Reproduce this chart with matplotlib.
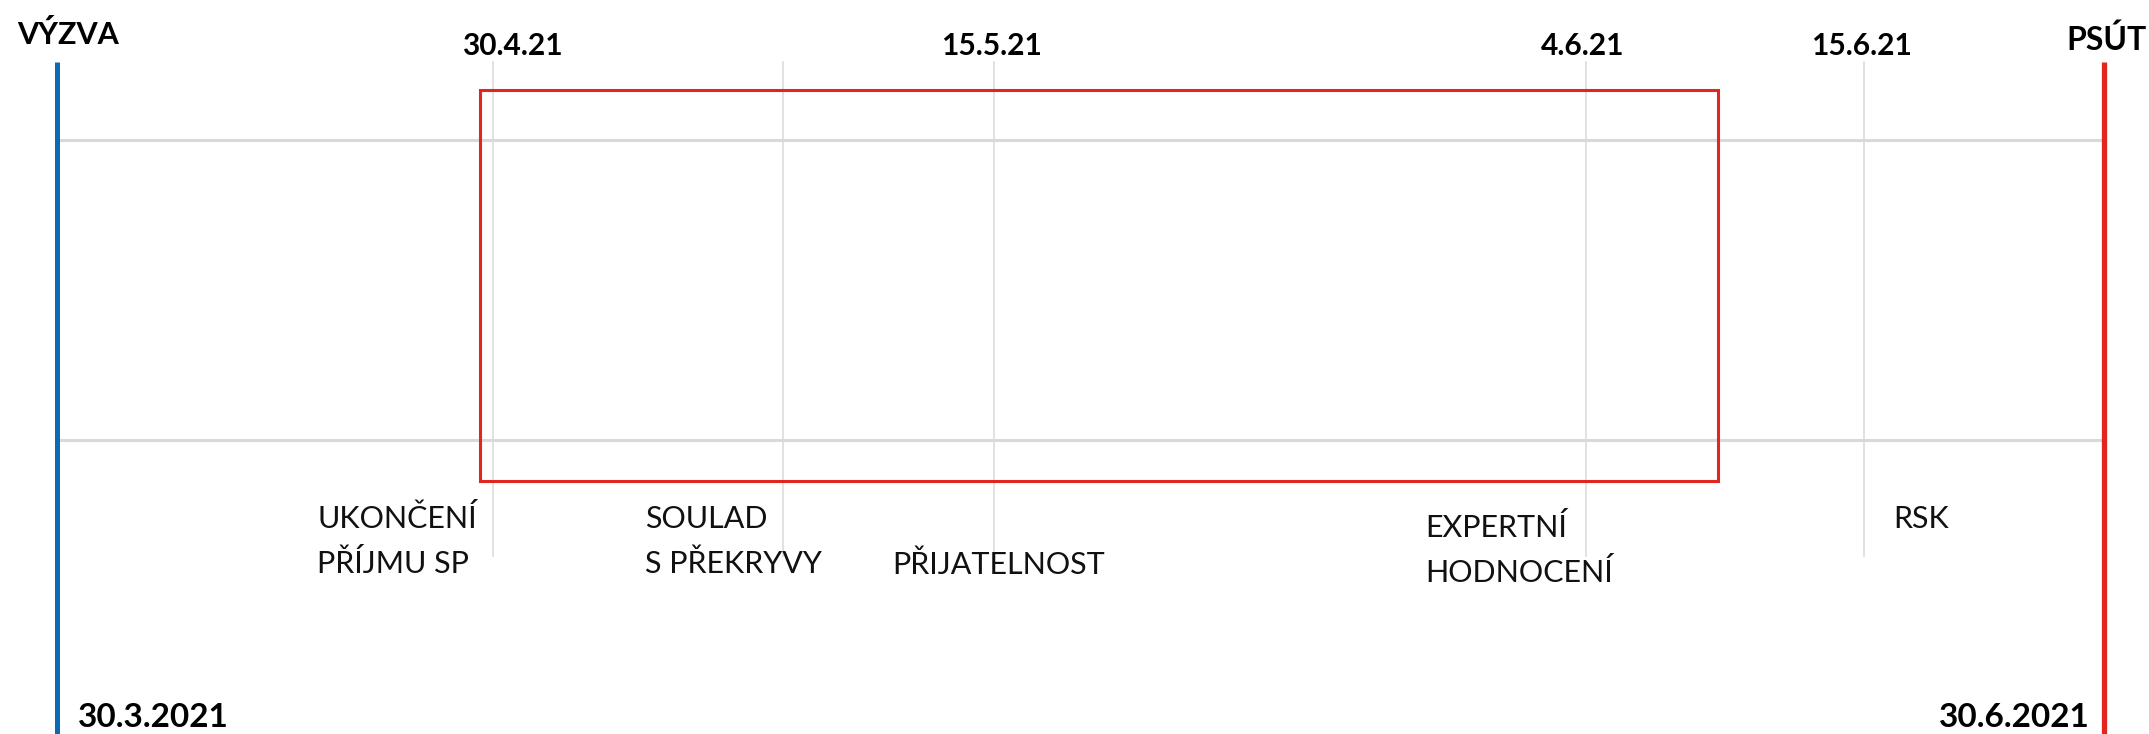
import matplotlib
matplotlib.use('Agg')
import matplotlib.pyplot as plt
from matplotlib.patches import Rectangle

# ---------------- data ----------------
start_label = 'VÝZVA'
start_date = '30.3.2021'
end_label = 'PSÚT'
end_date = '30.6.2021'
milestone_dates = ['30.4.21', '15.5.21', '4.6.21', '15.6.21']
milestone_pos = [493, 994, 1586, 1864]          # schematic timeline positions
extra_marker_pos = [783]                         # unlabeled marker
phase_labels = ['UKONČENÍ\nPŘÍJMU SP', 'SOULAD\nS PŘEKRYVY', 'PŘIJATELNOST',
                'EXPERTNÍ\nHODNOCENÍ', 'RSK']
phase_pos = [317, 645, 892, 1425, 1893]
phase_row = [528, 528, 574, 537, 528]            # baseline of first line
start_pos = 57
end_pos = 2104
window_span = (480, 1718)                        # highlighted window
band_levels = (140, 440)

# ---------------- figure ----------------
W, H = 2149, 734
fig = plt.figure(figsize=(W / 100, H / 100), dpi=100)
ax = fig.add_axes([0, 0, 1, 1])
ax.set_xlim(0, W)
ax.set_ylim(H, 0)
ax.axis('off')

light = dict(family=['Lato', 'DejaVu Sans'], weight='normal', color='#111111')
bold = dict(family=['Lato', 'DejaVu Sans'], weight='bold', color='black')

grid_c = '#d9d9d9'
# horizontal band lines
for y in band_levels:
    ax.plot([start_pos, end_pos], [y, y], color=grid_c, lw=2.2, zorder=1,
            solid_capstyle='butt')

# vertical milestone lines
for x in milestone_pos + extra_marker_pos:
    ax.plot([x, x], [62, 556], color=grid_c, lw=1.1, zorder=1)

# milestone date labels
for x, lab in zip(milestone_pos, milestone_dates):
    ax.text(x + (19 if lab == '30.4.21' else -3), 55, lab, ha='center',
            va='baseline', fontsize=21.5, **bold)

# highlight window
ax.add_patch(Rectangle((window_span[0], 90), window_span[1] - window_span[0],
                       391, fill=False, ec='#e0261f', lw=2.2, zorder=3))

# start / end lines
ax.plot([start_pos, start_pos], [62, H], color='#0a6ab4', lw=3.6, zorder=4,
        solid_capstyle='butt')
ax.plot([end_pos, end_pos], [62, H], color='#e0261f', lw=3.8, zorder=4,
        solid_capstyle='butt')

ax.text(17, 44, start_label, ha='left', va='baseline', fontsize=22, **bold)
ax.text(2147, 50, end_label, ha='right', va='baseline', fontsize=23, **bold)
ax.text(78, 727, start_date, ha='left', va='baseline', fontsize=24, **bold)
ax.text(2090, 727, end_date, ha='right', va='baseline', fontsize=24, **bold)

# phase labels
for x, y0, lab in zip(phase_pos, phase_row, phase_labels):
    for i, line in enumerate(lab.split('\n')):
        ax.text(x, y0 + 45 * i, line, ha='left', va='baseline',
                fontsize=22, **light)

fig.savefig('out.png', dpi=100)
